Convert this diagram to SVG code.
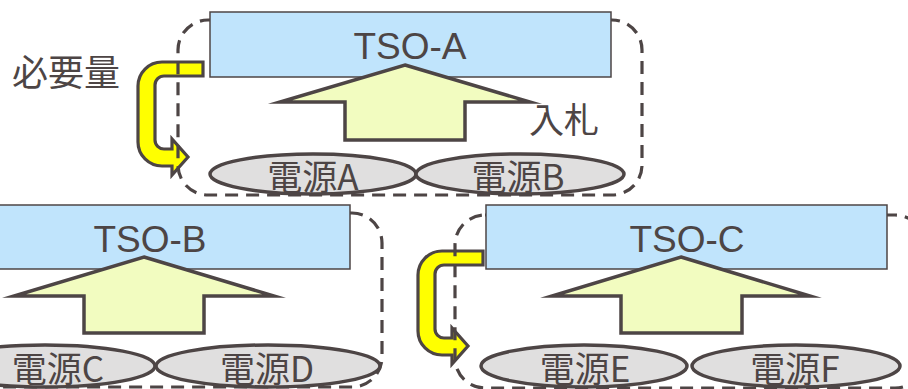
<svg xmlns="http://www.w3.org/2000/svg" width="908" height="389" viewBox="0 0 908 389">
<defs>
<style>
.dash{fill:none;stroke:#4d4545;stroke-width:3.2;stroke-dasharray:13 8}
.tso{fill:#c0e4fc;stroke:#4d4545;stroke-width:1.5}
.up{fill:#f2fcc0;stroke:#4d4545;stroke-width:3.5;stroke-linejoin:miter;stroke-miterlimit:10}
.gen{fill:#e0dfdf;stroke:#4d4545;stroke-width:3.5}
.yl{fill:#ffff00;stroke:#4d4545;stroke-width:3.2;stroke-linejoin:miter}
.t{fill:#4d4545;font-family:"Liberation Sans",Arial,sans-serif;font-size:37px;text-anchor:middle}
.j{fill:#4d4545;font-family:"Noto Sans CJK JP","Liberation Sans",sans-serif;font-size:35px}
.jm{text-anchor:middle}
</style>
<path id="yarrow" class="yl" d="M203,62 H162 A24,24 0 0 0 138,86 V142 A24,24 0 0 0 162,166 H172 V175 L188,157 L172,139 V149 H164 A9,9 0 0 1 155,140 V85 A9,9 0 0 1 164,76 H203 Z"/>
</defs>
<g id="connectors">
<use href="#yarrow"/>
<use href="#yarrow" transform="translate(280,189)"/>
</g>
<g id="region-A">
<rect class="dash" x="178" y="20" width="464" height="175" rx="30"/>
</g>
<g id="region-B">
<rect class="dash" x="-100" y="213" width="482" height="174" rx="30"/>
</g>
<g id="region-C">
<rect class="dash" x="455" y="215" width="470" height="173" rx="30"/>
</g>
<g id="tso-a">
<rect class="tso" x="210" y="12" width="401" height="65"/>
<text class="t" x="410" y="59">TSO-A</text>
</g>
<g id="tso-b">
<rect class="tso" x="-51" y="205" width="401" height="64"/>
<text class="t" x="150" y="252">TSO-B</text>
</g>
<g id="tso-c">
<rect class="tso" x="486" y="205" width="401" height="64"/>
<text class="t" x="687" y="252">TSO-C</text>
</g>
<g id="bid-a">
<polygon class="up" points="405,65 530,102 465,102 465,140 345,140 345,102 280,102"/>
</g>
<g id="bid-b">
<polygon class="up" points="144,257 274,296 204,296 204,333 84,333 84,296 14,296"/>
</g>
<g id="bid-c">
<polygon class="up" points="681,257 810,296 742,296 742,333 621,333 621,296 552,296"/>
</g>
<g id="gen-a">
<ellipse class="gen" cx="313" cy="174" rx="103" ry="20"/>
<text class="j jm" x="313" y="190">電源A</text>
</g>
<g id="gen-b">
<ellipse class="gen" cx="520" cy="174" rx="104" ry="20"/>
<text class="j jm" x="518" y="190">電源B</text>
</g>
<g id="gen-c">
<ellipse class="gen" cx="45" cy="366" rx="110" ry="21"/>
<text class="j jm" x="58" y="382">電源C</text>
</g>
<g id="gen-d">
<ellipse class="gen" cx="268" cy="366" rx="112" ry="21"/>
<text class="j jm" x="267" y="382">電源D</text>
</g>
<g id="gen-e">
<ellipse class="gen" cx="584" cy="366" rx="103" ry="21"/>
<text class="j jm" x="585" y="382">電源E</text>
</g>
<g id="gen-f">
<ellipse class="gen" cx="796" cy="366" rx="104" ry="21"/>
<text class="j jm" x="795" y="382">電源F</text>
</g>
<g id="labels">
<text class="j" x="12" y="86" style="font-size:36px">必要量</text>
<text class="j" x="529" y="133">入札</text>
</g>
</svg>
